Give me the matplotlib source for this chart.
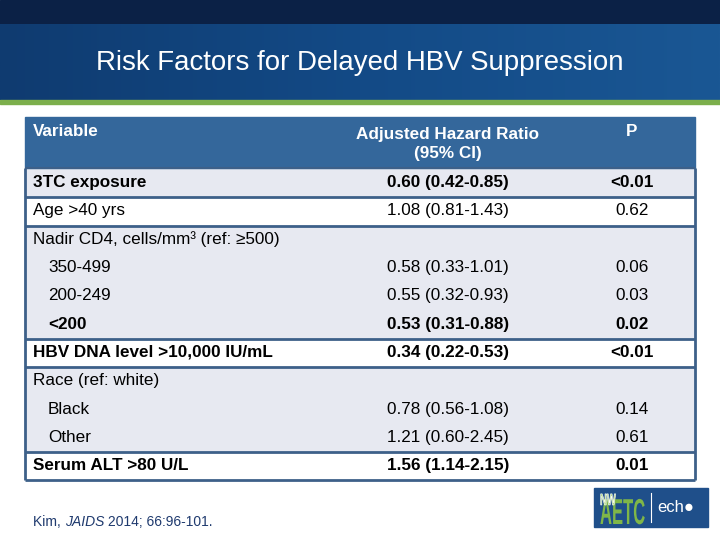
import matplotlib
matplotlib.use("Agg")
import matplotlib.pyplot as plt
from matplotlib.patches import Rectangle, PathPatch
from matplotlib.textpath import TextPath
from matplotlib.font_manager import FontProperties
from matplotlib.transforms import Affine2D
from matplotlib.colors import LinearSegmentedColormap
import numpy as np

plt.rcParams['font.family'] = ['Liberation Sans', 'DejaVu Sans']

title = "Risk Factors for Delayed HBV Suppression"
col_headers = ["Variable", "Adjusted Hazard Ratio\n(95% CI)", "P"]

# Each group: list of (label, hr, p, bold, indent)
groups = [
    [("3TC exposure", "0.60 (0.42-0.85)", "<0.01", True, False)],
    [("Age >40 yrs", "1.08 (0.81-1.43)", "0.62", False, False)],
    [("Nadir CD4, cells/mm\u00b3 (ref: \u2265500)", "", "", False, False),
     ("350-499", "0.58 (0.33-1.01)", "0.06", False, True),
     ("200-249", "0.55 (0.32-0.93)", "0.03", False, True),
     ("<200", "0.53 (0.31-0.88)", "0.02", True, True)],
    [("HBV DNA level >10,000 IU/mL", "0.34 (0.22-0.53)", "<0.01", True, False)],
    [("Race (ref: white)", "", "", False, False),
     ("Black", "0.78 (0.56-1.08)", "0.14", False, True),
     ("Other", "1.21 (0.60-2.45)", "0.61", False, True)],
    [("Serum ALT >80 U/L", "1.56 (1.14-2.15)", "0.01", True, False)],
]
group_shaded = [True, False, True, False, True, False]
citation_author = "Kim, "
citation_journal = "JAIDS"
citation_rest = " 2014; 66:96-101."

W, H = 720, 540
fig = plt.figure(figsize=(7.2, 5.4), dpi=100)
ax = fig.add_axes([0, 0, 1, 1])

# Header band
ax.add_patch(Rectangle((0, 0), W, 24, color='#0b2146', zorder=1))
grad = np.linspace(0, 1, 256).reshape(1, -1)
cmap = LinearSegmentedColormap.from_list('hb', ['#0f3b70', '#134a86', '#1a5794'])
ax.imshow(grad, extent=(0, W, 100, 24), cmap=cmap, aspect='auto', zorder=1)
ax.add_patch(Rectangle((0, 100), W, 4, color='#7caf4c', zorder=2))
ax.set_xlim(0, W)
ax.set_ylim(H, 0)
ax.axis('off')
ax.text(360, 63, title, color='white', fontsize=19.9, ha='center', va='center', zorder=3)

# Table
x0, x1 = 25, 695
top = 117
header_h = 51
line_h = 28.3
border = '#3d6089'
fs = 12.3
ax.add_patch(Rectangle((x0, top), x1 - x0, header_h, color='#34679b', zorder=2))
ax.text(33, top + 14, col_headers[0], color='white', fontsize=fs, fontweight='bold', va='center', zorder=3)
ax.text(448, top + 14 + 13, col_headers[1], color='white', fontsize=fs, fontweight='bold',
        ha='center', va='center', linespacing=1.35, zorder=3)
ax.text(632, top + 14, col_headers[2], color='white', fontsize=fs, fontweight='bold', ha='center', va='center', zorder=3)

y = top + header_h + 1
for g, shaded in zip(groups, group_shaded):
    gh = line_h * len(g)
    ax.add_patch(Rectangle((x0, y), x1 - x0, gh, color='#e7e9f1' if shaded else 'white', zorder=1.5))
    for i, (lab, hr, p, bold, indent) in enumerate(g):
        cy = y + line_h * i + line_h / 2 - 0.5
        fw = 'bold' if bold else 'normal'
        ax.text(48 if indent else 33, cy, lab, fontsize=fs, fontweight=fw, va='center', color='black', zorder=3)
        if hr:
            ax.text(448, cy, hr, fontsize=fs, fontweight=fw, ha='center', va='center', zorder=3)
            ax.text(632, cy, p, fontsize=fs, fontweight=fw, ha='center', va='center', zorder=3)
    y += gh
    ax.plot([x0, x1], [y, y], color=border, lw=2, zorder=2.5, solid_capstyle='butt')

# Outer border
ax.plot([x0, x0], [top + header_h, y], color=border, lw=2, zorder=2.5, solid_capstyle='butt')
ax.plot([x1, x1], [top + header_h, y], color=border, lw=2, zorder=2.5, solid_capstyle='butt')
ax.plot([x0, x1], [top + header_h, top + header_h], color=border, lw=1.5, zorder=2.5, solid_capstyle='butt')

# Citation
cit_color = '#1f3a6e'
cfs = 10
fig.canvas.draw()
r = fig.canvas.get_renderer()
t1 = ax.text(33, H - 522, citation_author, fontsize=cfs, color=cit_color, va='center', transform=None)
bb = t1.get_window_extent(r)
t2 = ax.text(bb.x1, H - 522, citation_journal, fontsize=cfs, color=cit_color, va='center', style='italic',
             transform=None)
bb2 = t2.get_window_extent(r)
t3 = ax.text(bb2.x1, H - 522, citation_rest, fontsize=cfs, color=cit_color, va='center', transform=None)

# Logo
ax.add_patch(Rectangle((594, 488), 114, 39, color='#1f4f8a', zorder=2))
green = '#7fb648'
fp = FontProperties(family='Liberation Sans', weight='bold')
tp = TextPath((0, 0), "AETC", size=20, prop=fp)
tr = Affine2D().scale(0.83, -1.8).translate(600, 524)
ax.add_patch(PathPatch(tr.transform_path(tp), color=green, lw=0, zorder=3))
tp2 = TextPath((0, 0), "NW", size=9, prop=fp)
tr2 = Affine2D().scale(1.05, -1.8).translate(600, 505)
ax.add_patch(PathPatch(tr2.transform_path(tp2), facecolor='#b9dc8a', edgecolor='white', lw=0.4, zorder=4))
ax.plot([651, 651], [493, 522], color='white', lw=0.8, zorder=3)
ax.text(657, 508, "ech\u25cf", fontsize=12, color='white', va='center', zorder=3)

fig.savefig('out.png', dpi=100)
